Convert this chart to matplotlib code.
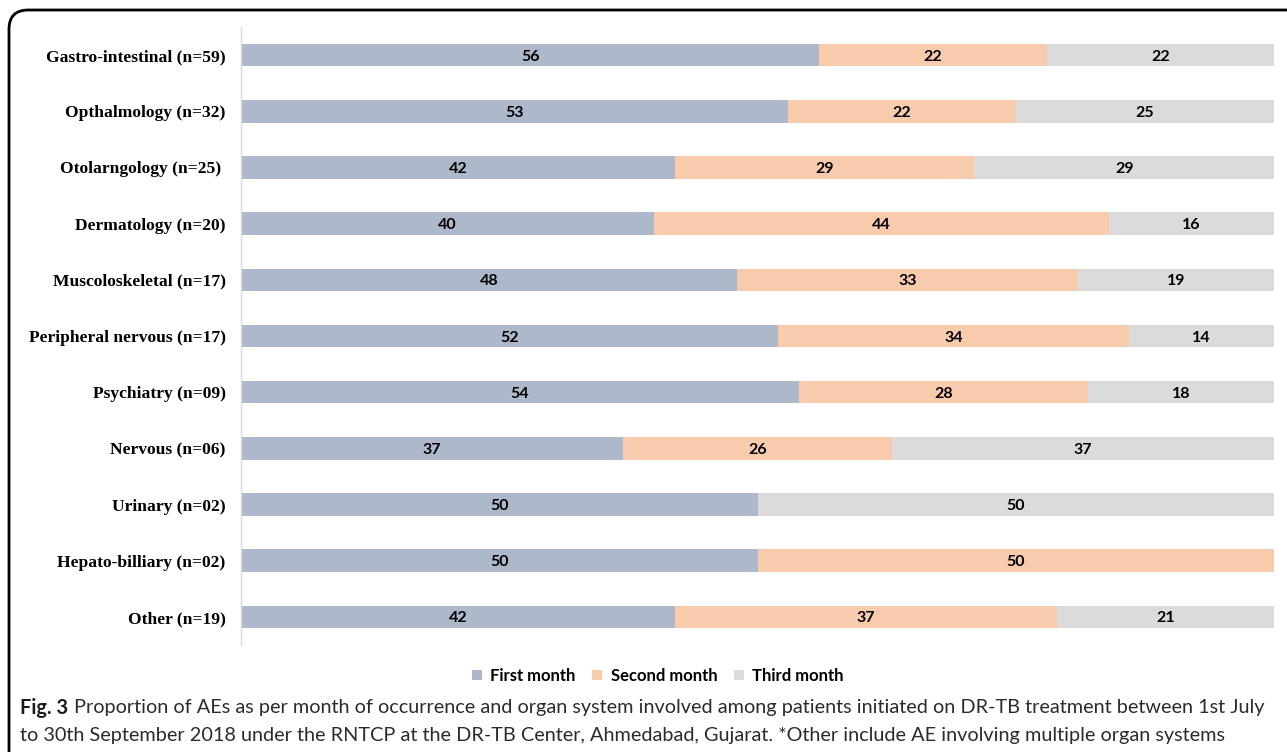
import matplotlib
matplotlib.use("Agg")
import matplotlib.pyplot as plt
import numpy as np
from matplotlib.patches import FancyBboxPatch

categories = [
    "Gastro-intestinal (n=59)",
    "Opthalmology (n=32)",
    "Otolarngology (n=25) ",
    "Dermatology (n=20)",
    "Muscoloskeletal (n=17)",
    "Peripheral nervous (n=17)",
    "Psychiatry (n=09)",
    "Nervous (n=06)",
    "Urinary (n=02)",
    "Hepato-billiary (n=02)",
    "Other (n=19)",
]
first_month = [56, 53, 42, 40, 48, 52, 54, 37, 50, 50, 42]
second_month = [22, 22, 29, 44, 33, 34, 28, 26, 0, 50, 37]
third_month = [22, 25, 29, 16, 19, 14, 18, 37, 50, 0, 21]
series_names = ["First month", "Second month", "Third month"]
colors = ["#ADB9CA", "#F8CBAD", "#DBDBDB"]

fig = plt.figure(figsize=(12.87, 7.52), dpi=100)
ax = fig.add_axes([241 / 1287, 1 - 645 / 752, 1033 / 1287, 618 / 752])

y = np.arange(len(categories))
left = np.zeros(len(categories))
for vals, name, col in zip([first_month, second_month, third_month], series_names, colors):
    vals = np.array(vals, dtype=float)
    ax.barh(y, vals, left=left, height=0.4, color=col, label=name)
    for yi, l, v in zip(y, left, vals):
        if v > 0:
            ax.text(l + v / 2, yi, f"{int(v)}", ha="center", va="center_baseline",
                    fontsize=11.5, fontweight="bold", family="Lato", color="black")
    left += vals

ax.set_xlim(0, 100)
ax.set_ylim(len(categories) - 0.5, -0.5)
ax.set_yticks(y)
ax.set_yticklabels(categories, family="Liberation Serif", fontweight="bold", fontsize=12.6)
ax.tick_params(axis="y", length=0, pad=11)
ax.set_xticks([])
for s in ["top", "right", "bottom"]:
    ax.spines[s].set_visible(False)
ax.spines["left"].set_color("#D9D9D9")
ax.spines["left"].set_linewidth(1)

fig.legend(loc="center", bbox_to_anchor=(658 / 1287, 1 - 676 / 752), ncol=3,
           frameon=False, handlelength=0.6, handleheight=0.6, handletextpad=0.5,
           columnspacing=1.0, prop={"family": "Lato", "weight": "bold", "size": 12})

# frame around the figure panel
frame = FancyBboxPatch((9 / 1287, -0.05), 1.1, 1 - 10 / 752 + 0.05,
                       boxstyle="round,pad=0,rounding_size=0.015",
                       transform=fig.transFigure, fill=False, edgecolor="black",
                       linewidth=2, mutation_aspect=1287 / 752)
fig.patches.append(frame)

cap_color = "#2b2b2b"
cap_size = 14.3
fig_lbl = fig.text(20 / 1287, 1 - 708 / 752, "Fig. 3", fontsize=cap_size, fontweight="bold",
                   family="Lato", color="#1a1a1a", va="center")
fig.canvas.draw()
bb = fig_lbl.get_window_extent().transformed(fig.transFigure.inverted())
fig.text(bb.x1 + 6 / 1287, 1 - 708 / 752,
         "Proportion of AEs as per month of occurrence and organ system involved among patients initiated on DR-TB treatment between 1st July",
         fontsize=cap_size, family="Lato", color=cap_color, va="center")
fig.text(20 / 1287, 1 - 736 / 752,
         "to 30th September 2018 under the RNTCP at the DR-TB Center, Ahmedabad, Gujarat. *Other include AE involving multiple organ systems",
         fontsize=cap_size, family="Lato", color=cap_color, va="center")

fig.savefig("out.png", dpi=100)
